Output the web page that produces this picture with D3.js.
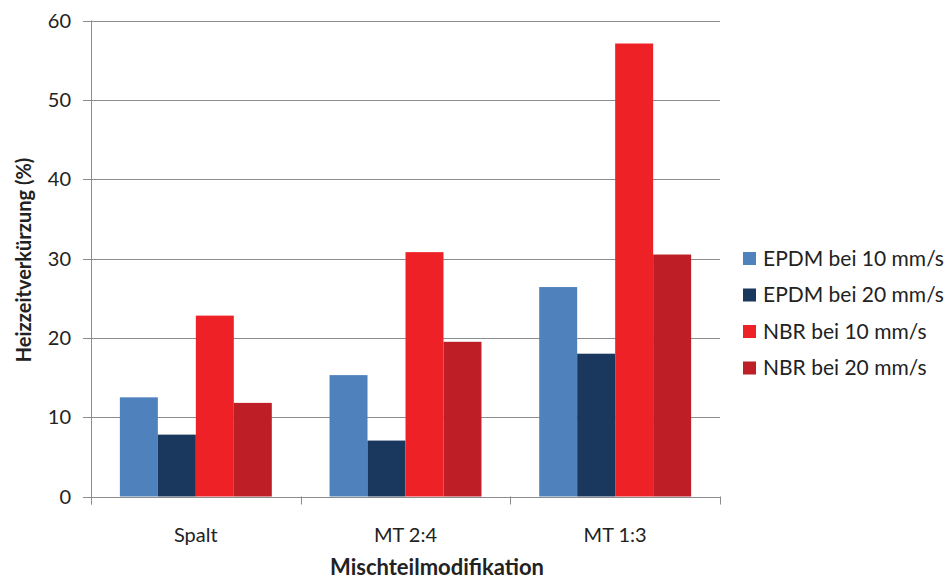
<!DOCTYPE html>
<html><head><meta charset="utf-8">
<script src="https://cdn.jsdelivr.net/npm/d3@7"></script>
<style>body{margin:0;background:#fff}svg{display:block}text{font-family:Lato,"Open Sans",sans-serif;fill:#222}</style>
</head><body><svg id="c" width="948" height="579"></svg>
<script>
const categories = ["Spalt", "MT 2:4", "MT 1:3"];
const seriesNames = ["EPDM bei 10 mm/s", "EPDM bei 20 mm/s", "NBR bei 10 mm/s", "NBR bei 20 mm/s"];
const epdm10 = [12.5, 15.3, 26.4];
const epdm20 = [7.8, 7.05, 18.0];
const nbr10 = [22.8, 30.8, 57.1];
const nbr20 = [11.8, 19.5, 30.5];
const yTicks = [0, 10, 20, 30, 40, 50, 60];
const colors = ["#4F81BD", "#1A375E", "#EE2226", "#BE1F26"];
const seriesValues = [epdm10, epdm20, nbr10, nbr20];

const svg = d3.select("#c");
const m = {left: 91, right: 720, top: 20.5, bottom: 496.5};
const x = d3.scaleBand().domain(categories).range([m.left, m.right]).paddingInner(0).paddingOuter(0);
const y = d3.scaleLinear().domain([0, 60]).range([m.bottom, m.top]);
const xs = d3.scaleBand().domain(d3.range(4)).range([0, x.bandwidth()]).paddingInner(0).paddingOuter(0.76);

// gridlines
svg.append("g").selectAll("line").data(yTicks).join("line")
  .attr("x1", m.left - 8).attr("x2", m.right)
  .attr("y1", d => Math.round(y(d)) + 0.5).attr("y2", d => Math.round(y(d)) + 0.5)
  .attr("stroke", "#8c8c8c").attr("stroke-width", 1);

// bars
const g = svg.append("g");
seriesValues.forEach((vals, si) => {
  g.selectAll(null).data(vals).join("rect")
    .attr("x", (d, i) => x(categories[i]) + xs(si))
    .attr("width", xs.bandwidth())
    .attr("y", d => y(d))
    .attr("height", d => y(0) - y(d))
    .attr("fill", colors[si]);
});

// y axis line
svg.append("line").attr("x1", m.left + 0.5).attr("x2", m.left + 0.5)
  .attr("y1", m.top).attr("y2", m.bottom + 8).attr("stroke", "#8c8c8c");
// x axis category ticks
const bounds = categories.map(c => x(c)).concat([m.right]);
svg.append("g").selectAll("line").data(bounds).join("line")
  .attr("x1", d => Math.round(d) + 0.5).attr("x2", d => Math.round(d) + 0.5)
  .attr("y1", m.bottom).attr("y2", m.bottom + 8).attr("stroke", "#8c8c8c");

// y tick labels
svg.append("g").selectAll("text").data(yTicks).join("text")
  .attr("x", 71).attr("y", d => y(d)).attr("dy", "0.35em")
  .attr("text-anchor", "end").attr("font-size", 20).text(d => d);

// x labels
svg.append("g").selectAll("text").data(categories).join("text")
  .attr("x", d => x(d) + x.bandwidth() / 2).attr("y", 542)
  .attr("text-anchor", "middle").attr("font-size", 20).text(d => d);

// axis titles
svg.append("text").attr("x", 437).attr("y", 575)
  .attr("text-anchor", "middle").attr("font-size", 22).attr("font-weight", "bold")
  .text("Mischteilmodifikation");
svg.append("text").attr("transform", `translate(31,260) rotate(-90)`)
  .attr("text-anchor", "middle").attr("font-size", 20).attr("font-weight", "bold")
  .text("Heizzeitverkürzung (%)");

// legend
const leg = svg.append("g").selectAll("g").data(seriesNames).join("g")
  .attr("transform", (d, i) => `translate(743,${258.5 + i * 36.5})`);
leg.append("rect").attr("x", 0).attr("y", -6.5).attr("width", 13).attr("height", 13)
  .attr("fill", (d, i) => colors[i]);
leg.append("text").attr("x", 20).attr("dy", "0.35em").attr("font-size", 21).text(d => d);
</script></body></html>
